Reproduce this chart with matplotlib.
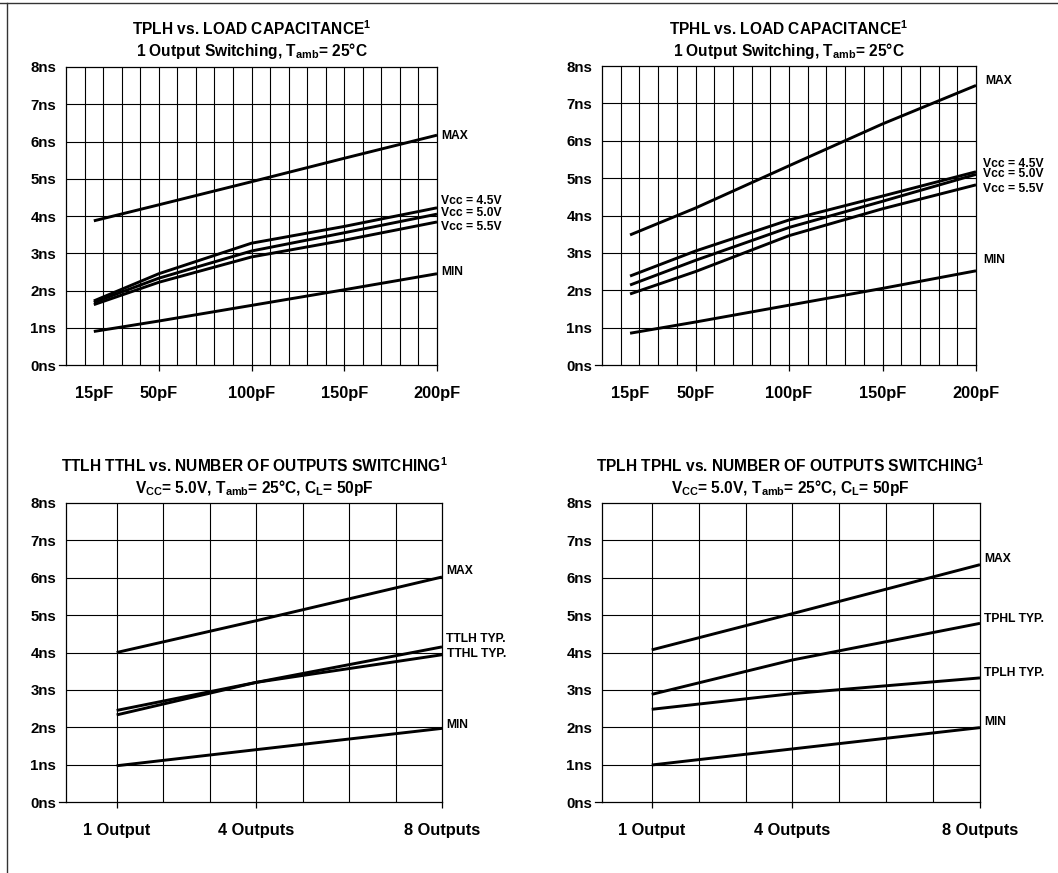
import numpy as np
import matplotlib
matplotlib.use("Agg")
import matplotlib.pyplot as plt
from matplotlib.lines import Line2D

plt.rcParams['font.family'] = ['Liberation Sans', 'DejaVu Sans']
plt.rcParams['font.weight'] = 'bold'
plt.rcParams['mathtext.fontset'] = 'custom'
plt.rcParams['mathtext.rm'] = 'Liberation Sans:bold'
plt.rcParams['mathtext.it'] = 'Liberation Sans:bold'
plt.rcParams['mathtext.bf'] = 'Liberation Sans:bold'

# load capacitance charts (pF)
cap_x = [15, 50, 100, 150, 200]
cap_ticks = [15, 50, 100, 150, 200]
cap_ticklabels = ['15pF', '50pF', '100pF', '150pF', '200pF']

tplh_max = [3.87, 4.30, 4.92, 5.55, 6.17]
tplh_v45 = [1.72, 2.45, 3.27, 3.72, 4.22]
tplh_v50 = [1.68, 2.33, 3.06, 3.55, 4.05]
tplh_v55 = [1.62, 2.22, 2.90, 3.35, 3.84]
tplh_min = [0.90, 1.18, 1.60, 2.02, 2.45]

tphl_max = [3.48, 4.20, 5.33, 6.45, 7.48]
tphl_v45 = [2.38, 3.05, 3.88, 4.52, 5.17]
tphl_v50 = [2.14, 2.80, 3.68, 4.38, 5.10]
tphl_v55 = [1.90, 2.50, 3.46, 4.18, 4.82]
tphl_min = [0.85, 1.15, 1.60, 2.05, 2.52]

# number of outputs switching charts
out_x = [1, 4, 8]
out_ticks = [1, 4, 8]
out_ticklabels = ['1 Output', '4 Outputs', '8 Outputs']

tt_max = [4.00, 4.85, 6.02]
ttlh_typ = [2.33, 3.20, 4.15]
tthl_typ = [2.45, 3.20, 3.94]
tt_min = [0.97, 1.40, 1.97]

tp_max = [4.07, 5.04, 6.35]
tphl_typ = [2.88, 3.80, 4.78]
tplh_typ = [2.48, 2.90, 3.32]
tp_min = [0.99, 1.42, 1.99]

y_ticks = list(range(9))
y_ticklabels = ['%dns' % v for v in y_ticks]

W, H = 1058, 873
fig = plt.figure(figsize=(W / 100, H / 100), dpi=100)


def px_axes(left, top, right, bottom):
    return fig.add_axes([left / W, 1 - bottom / H, (right - left) / W, (bottom - top) / H])


def setup(ax, xlim, xticks, xlabels, xgrid):
    ax.set_xlim(*xlim)
    ax.set_ylim(0, 8)
    for s in ax.spines.values():
        s.set_linewidth(0.9)
    ax.set_yticks(y_ticks)
    ax.set_yticklabels(y_ticklabels, fontsize=10.8, fontweight='bold')
    ax.set_xticks(xticks)
    ax.set_xticklabels(xlabels, fontsize=11.8, fontweight='bold')
    ax.tick_params(axis='x', length=4, width=0.9, pad=11)
    ax.tick_params(axis='y', length=0, pad=7)
    for g in xgrid:
        ax.axvline(g, color='black', lw=0.8, zorder=1)
    for v in range(1, 8):
        ax.axhline(v, color='black', lw=0.8, zorder=1)
    # little dash on 0ns
    ax.plot([-0.018, 0], [0, 0], transform=ax.transAxes, color='black', lw=0.9, clip_on=False)


def curves(ax, x, series, labels):
    for ys in series:
        ax.plot(x, ys, color='black', lw=2.1, zorder=3, solid_capstyle='butt')
    for txt, lx, ly in labels:
        ax.text(lx, ly, txt, fontsize=8.7, fontweight='bold', ha='left', va='center', clip_on=False)


def titles(cx, y1, y2, t1, t2):
    fig.text(cx / W, 1 - y1 / H, t1, ha='center', va='center', fontsize=11.2, fontweight='bold')
    fig.text(cx / W, 1 - y2 / H, t2, ha='center', va='center', fontsize=11.2, fontweight='bold')


# top left: TPLH
ax1 = px_axes(66, 67, 437, 365)
setup(ax1, (0, 200), cap_ticks, cap_ticklabels, list(range(10, 200, 10)))
ax1.xaxis.get_major_ticks()[0].tick1line.set_visible(False)
curves(ax1, cap_x, [tplh_max, tplh_v45, tplh_v50, tplh_v55, tplh_min],
       [('MAX', 202.5, 6.16), ('Vcc = 4.5V', 202, 4.39), ('Vcc = 5.0V', 202, 4.08),
        ('Vcc = 5.5V', 202, 3.71), ('MIN', 202.5, 2.5)])
titles(252, 29, 51, r'TPLH vs. LOAD CAPACITANCE$^1$', r'1 Output Switching, T$_{amb}$= 25°C')

# top right: TPHL
ax2 = px_axes(602, 66, 976, 365)
setup(ax2, (0, 200), cap_ticks, cap_ticklabels, list(range(10, 200, 10)))
ax2.xaxis.get_major_ticks()[0].tick1line.set_visible(False)
curves(ax2, cap_x, [tphl_max, tphl_v45, tphl_v50, tphl_v55, tphl_min],
       [('MAX', 205, 7.6), ('Vcc = 4.5V', 204, 5.37), ('Vcc = 5.0V', 204, 5.1),
        ('Vcc = 5.5V', 204, 4.7), ('MIN', 204, 2.82)])
titles(789, 29, 51, r'TPHL vs. LOAD CAPACITANCE$^1$', r'1 Output Switching, T$_{amb}$= 25°C')

# bottom left: TTLH TTHL
ax3 = px_axes(66, 503, 442, 802)
setup(ax3, (-0.09, 8), out_ticks, out_ticklabels, list(range(1, 8)))
curves(ax3, out_x, [tt_max, ttlh_typ, tthl_typ, tt_min],
       [('MAX', 8.1, 6.18), ('TTLH TYP.', 8.08, 4.37), ('TTHL TYP.', 8.1, 3.95), ('MIN', 8.1, 2.07)])
titles(254, 466, 488, r'TTLH TTHL vs. NUMBER OF OUTPUTS SWITCHING$^1$',
       r'V$_{CC}$= 5.0V, T$_{amb}$= 25°C, C$_L$= 50pF')

# bottom right: TPLH TPHL
ax4 = px_axes(602, 503, 980, 802)
setup(ax4, (-0.06, 8), out_ticks, out_ticklabels, list(range(1, 8)))
curves(ax4, out_x, [tp_max, tphl_typ, tplh_typ, tp_min],
       [('MAX', 8.09, 6.49), ('TPHL TYP.', 8.09, 4.9), ('TPLH TYP.', 8.09, 3.44), ('MIN', 8.09, 2.14)])
titles(790, 466, 488, r'TPLH TPHL vs. NUMBER OF OUTPUTS SWITCHING$^1$',
       r'V$_{CC}$= 5.0V, T$_{amb}$= 25°C, C$_L$= 50pF')

# page frame (top and left edges only)
fig.add_artist(Line2D([0, 1], [1 - 3 / H, 1 - 3 / H], color='#333333', lw=1.0))
fig.add_artist(Line2D([7 / W, 7 / W], [0, 1 - 3 / H], color='#333333', lw=1.0))

fig.savefig('out.png', dpi=100, facecolor='white')
